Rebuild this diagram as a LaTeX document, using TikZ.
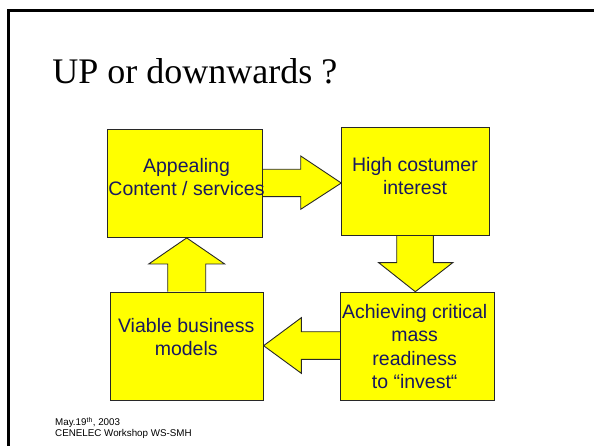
\documentclass[tikz,border=0pt]{standalone}
\usepackage{fontspec}
\setmainfont{Liberation Serif}
\newfontfamily\arialfont{Liberation Sans}
\usetikzlibrary{backgrounds}
\definecolor{boxyellow}{RGB}{255,255,0}
\definecolor{navytext}{RGB}{24,24,96}
\definecolor{edgegray}{RGB}{40,40,40}
\tikzset{
  yellowbox/.style={draw=edgegray,fill=boxyellow,line width=0.9pt,inner sep=0pt,anchor=north west},
  blockarrow/.style={draw=edgegray,fill=boxyellow,line width=0.9pt,line join=miter},
  boxtext/.style={font=\arialfont\fontsize{19.5}{23.3}\selectfont,text=navytext,align=center,inner sep=0pt,anchor=north},
}
\begin{document}
\begin{tikzpicture}[x=1pt,y=-1pt]
\useasboundingbox (0,0) rectangle (594,446);
% slide frame
\draw[line width=2.5pt] (8.5,470) -- (8.5,10.5) -- (620,10.5);
% title
\node[anchor=base west,inner sep=0pt,font=\fontsize{36}{40}\selectfont] (title) at (52.2,84) {UP or downwards ?};
% boxes
\node[yellowbox,minimum width=154.7pt,minimum height=108.3pt] (b1) at (107.3,128.7) {};
\node[yellowbox,minimum width=148pt,minimum height=108.6pt] (b2) at (341.3,126.7) {};
\node[yellowbox,minimum width=154.3pt,minimum height=108.3pt] (b3) at (340,291.7) {};
\node[yellowbox,minimum width=152.7pt,minimum height=108.3pt] (b4) at (110,291.7) {};
% block arrows
\begin{scope}[on background layer]
\fill[white] (0,0) rectangle (594,446);
\draw[blockarrow] (b1.east |- 0,169.3) -- (300.7,169.3) -- (300.7,156) -- (b2.west |- 0,183) -- (300.7,209.3) -- (300.7,196.7) -- (b1.east |- 0,196.7);
\draw[blockarrow] (396.7,0 |- b2.south) -- (396.7,262.7) -- (378.7,262.7) -- (415.3,0 |- b3.north) -- (452.7,262.7) -- (433.3,262.7) -- (433.3,0 |- b2.south);
\draw[blockarrow] (b3.west |- 0,331.7) -- (301.3,331.7) -- (301.3,317.7) -- (b4.east |- 0,345.7) -- (301.3,373.3) -- (301.3,359.3) -- (b3.west |- 0,359.3);
\draw[blockarrow] (167.7,0 |- b4.north) -- (167.7,264) -- (148.7,264) -- (186.7,0 |- b1.south) -- (224.7,264) -- (205.7,264) -- (205.7,0 |- b4.north);
\end{scope}
% texts
\node[boxtext] (t1) at (186.5,172.3-16.31) {\strut Appealing\\\strut Content / services};
\node[boxtext] (t2) at (415,171-16.31) {\strut High costumer\\\strut interest};
\node[boxtext] (t3) at (414.7,318.3-16.31) {\strut Achieving critical\\\strut mass\\\strut readiness\\\strut to “invest“};
\node[boxtext] (t4) at (186.2,332.3-16.31) {\strut Viable business\\\strut models};
% footer
\node[anchor=base west,inner sep=0pt,align=left,font=\arialfont\fontsize{9.8}{10.6}\selectfont] (foot) at (55,436.5) {May.19\textsuperscript{th}, 2003\\CENELEC Workshop WS-SMH};
\end{tikzpicture}
\end{document}
